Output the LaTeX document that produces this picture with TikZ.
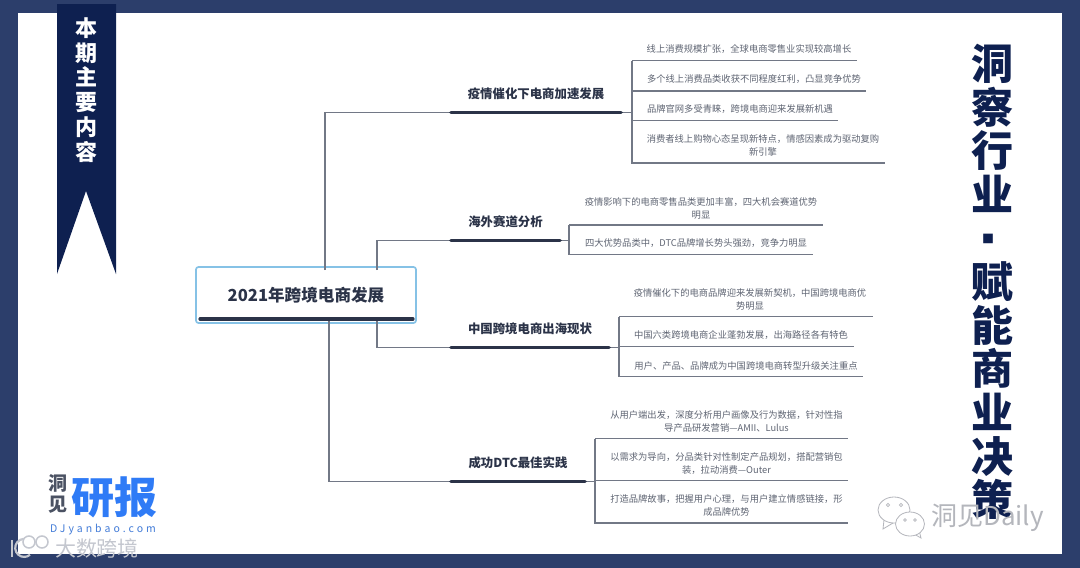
\documentclass[tikz,border=0pt]{standalone}
\usepackage{fontspec}
\setmainfont{Noto Sans CJK SC}
\newfontfamily\heavyfont{Noto Sans CJK SC}[UprightFont=* Black]
\usepackage{tikz}
\usetikzlibrary{positioning, calc}
\definecolor{framenavy}{HTML}{2C3E6B}
\definecolor{ribbonnavy}{HTML}{0E2050}
\definecolor{rootblue}{HTML}{86C2E6}
\definecolor{barink}{HTML}{2B3348}
\definecolor{twiggray}{HTML}{727886}
\definecolor{itemgray}{HTML}{5F6573}
\definecolor{logoblue}{HTML}{2F7BF6}
\definecolor{markgray}{HTML}{B4B6BC}
\definecolor{marklight}{HTML}{C4C7CF}
\tikzset{
    rootbox/.style={draw=rootblue,line width=1.7pt,fill=white,rounded corners=2.5pt,minimum width=220pt,minimum height=56pt,inner sep=0pt,text=barink,font=\bfseries\fontsize{16.6}{18}\selectfont},
    topicbox/.style={minimum height=36pt,inner sep=0pt,text=barink,font=\bfseries\fontsize{12.4}{14}\selectfont},
    itembox/.style={inner sep=0pt,align=center,text=itemgray,font=\fontsize{9.3}{13}\selectfont},
    twig/.style={draw=twiggray,line width=1.1pt},
    bar/.style={draw=barink,line width=3.2pt,line cap=round},
}
\begin{document}
\begin{tikzpicture}[x=1pt,y=-1pt]
    \useasboundingbox (0,0) rectangle (1080,568);
    \fill[framenavy] (0,0) rectangle (1080,568); %外框
    \fill[white] (18,13) rectangle (1062,554);
    \fill[ribbonnavy] (57,4) --(116,4) --(116,274) --(86,191) --(57,274) --cycle; %飘带
    \node[inner sep=0pt,align=center,text=white,font=\heavyfont\fontsize{22}{24.8}\selectfont] (ribbontitle) at (86,90) {本\\期\\主\\要\\内\\容};
    \node[inner sep=0pt,align=center,text=ribbonnavy,font=\heavyfont\fontsize{42}{43.6}\selectfont] (sidetitle) at (992,282) {洞\\察\\行\\业\\\hspace*{-8pt}\raisebox{11pt}{\fontsize{12}{12}\selectfont ■}\\赋\\能\\商\\业\\决\\策};

    \node[rootbox] (root) at (306,295) {2021年跨境电商发展}; %中心
    \node[topicbox,minimum width=170pt] (topica) at (536,94) {疫情催化下电商加速发展};
    \node[topicbox,minimum width=109pt] (topicb) at (505.5,222) {海外赛道分析};
    \node[topicbox,minimum width=158pt] (topicc) at (530,329) {中国跨境电商出海现状};
    \node[topicbox,minimum width=134pt] (topicd) at (518,463) {成功DTC最佳实践};

    \coordinate (rootbar) at (306,319);
    \coordinate (trunka) at (632,60.7);
    \coordinate (trunkb) at (569,225);
    \coordinate (trunkc) at (619,316.5);
    \coordinate (trunkd) at (595,438.5);

    \node[itembox] (itema1) at (749,49) {线上消费规模扩张，全球电商零售业实现较高增长};
    \node[itembox] (itema2) at (754,79.5) {多个线上消费品类收获不同程度红利，凸显竞争优势};
    \node[itembox] (itema3) at (740,109) {品牌官网多受青睐，跨境电商迎来发展新机遇};
    \node[itembox] (itema4) at (763,145.5) {消费者线上购物心态呈现新特点，情感因素成为驱动复购\\新引擎};
    \node[itembox] (itemb1) at (701,208) {疫情影响下的电商零售品类更加丰富，四大机会赛道优势\\明显};
    \node[itembox] (itemb2) at (696,243.5) {四大优势品类中，DTC品牌增长势头强劲，竞争力明显};
    \node[itembox] (itemc1) at (750,299.5) {疫情催化下的电商品牌迎来发展新契机，中国跨境电商优\\势明显};
    \node[itembox] (itemc2) at (741,335.5) {中国六类跨境电商企业蓬勃发展，出海路径各有特色};
    \node[itembox] (itemc3) at (746,365.5) {用户、产品、品牌成为中国跨境电商转型升级关注重点};
    \node[itembox] (itemd1) at (726.5,421) {从用户端出发，深度分析用户画像及行为数据，针对性指\\导产品研发营销—AMII、Lulus};
    \node[itembox] (itemd2) at (726.5,463.5) {以需求为导向，分品类针对性制定产品规划，搭配营销包\\装，拉动消费—Outer};
    \node[itembox] (itemd3) at (726.5,505.5) {打造品牌故事，把握用户心理，与用户建立情感链接，形\\成品牌优势};

    \coordinate (enda1) at (857,60.7);
    \coordinate (enda2) at (866,91);
    \coordinate (enda3) at (838,120.7);
    \coordinate (enda4) at (885,163);
    \coordinate (endb1) at (823,225);
    \coordinate (endb2) at (813,254.5);
    \coordinate (endc1) at (873,316.5);
    \coordinate (endc2) at (854,346.7);
    \coordinate (endc3) at (863,376.7);
    \coordinate (endd1) at (848,438.5);
    \coordinate (endd2) at (848,480.7);
    \coordinate (endd3) at (848,523);

    \draw[twig] ([xshift=19pt,yshift=-4pt]root.north) |- (topica.south west); %根到主题
    \draw[twig] ([xshift=71pt,yshift=-4pt]root.north) |- (topicb.south west);
    \draw[twig] ([xshift=71pt]rootbar) |- (topicc.south west);
    \draw[twig] ([xshift=23pt]rootbar) |- (topicd.south west);
    \draw[bar] ([xshift=-106pt]rootbar) --([xshift=107pt]rootbar);

    \draw[twig] (topica.south east) --(trunka |- topica.south);
    \draw[twig] (topicb.south east) --(trunkb |- topicb.south);
    \draw[twig] (topicc.south east) --(trunkc |- topicc.south);
    \draw[twig] (topicd.south east) --(trunkd |- topicd.south);
    \draw[bar] (topica.south west) --(topica.south east);
    \draw[bar] (topicb.south west) --(topicb.south east);
    \draw[bar] (topicc.south west) --(topicc.south east);
    \draw[bar] (topicd.south west) --(topicd.south east);

    \draw[twig] (trunka) --(trunka |- enda4) --(enda4); %分支
    \draw[twig] (trunka) --(enda1);
    \draw[twig] (trunka |- enda2) --(enda2);
    \draw[twig] (trunka |- enda3) --(enda3);
    \draw[twig] (trunkb) --(trunkb |- endb2) --(endb2);
    \draw[twig] (trunkb) --(endb1);
    \draw[twig] (trunkc) --(trunkc |- endc3) --(endc3);
    \draw[twig] (trunkc) --(endc1);
    \draw[twig] (trunkc |- endc2) --(endc2);
    \draw[twig] (trunkd) --(trunkd |- endd3) --(endd3);
    \draw[twig] (trunkd) --(endd1);
    \draw[twig] (trunkd |- endd2) --(endd2);

    \node[inner sep=0pt,align=center,text=barink!85,font=\bfseries\fontsize{19}{21}\selectfont] (logoside) at (58,494) {洞\\见}; %左下标志
    \node[inner sep=0pt,text=logoblue,font=\heavyfont\fontsize{43}{45}\selectfont] (logomain) at (114.5,497) {研报};
    \node[inner sep=0pt,text=logoblue!75!gray,font=\addfontfeature{LetterSpace=29}\fontsize{10.5}{12}\selectfont] (logourl) at (103,530) {DJyanbao.com};

    \draw[marklight,line width=2.2pt] (12,540) --(12,557); %水印
    \draw[marklight,line width=2.2pt] (30,541) arc[start angle=50,end angle=310,radius=9pt];
    \draw[marklight,fill=white,line width=1.5pt] (29,542) circle[x radius=6pt,y radius=6pt];
    \draw[marklight,fill=white,line width=1.5pt] (42,542) circle[x radius=6pt,y radius=6pt];
    \node[inner sep=0pt,text=marklight,font=\fontsize{21}{23}\selectfont] (markcross) at (97,548) {大数跨境};

    \fill[white,draw=markgray,line width=0.8pt] (884,520) --(883,529) --(893,523) --cycle; %微信
    \draw[white,line width=1.2pt] (885,519) --(892,522);
    \draw[markgray,fill=white,line width=0.8pt] (894,510) circle[x radius=16pt,y radius=13pt];
    \fill[white,draw=markgray,line width=0.8pt] (914,534) --(921,538) --(919,530) --cycle;
    \draw[markgray,fill=white,line width=0.8pt] (910,524) circle[x radius=14.5pt,y radius=12pt];
    \draw[markgray,line width=0.6pt] (888,505) circle[radius=1.6pt] (901,505) circle[radius=1.6pt] (905,520) circle[radius=1.4pt] (915,520) circle[radius=1.4pt];
    \node[inner sep=0pt,anchor=west,text=markgray,font=\fontsize{26}{28}\selectfont] (markdaily) at (931,518) {洞见Daily};
\end{tikzpicture}
\end{document}
